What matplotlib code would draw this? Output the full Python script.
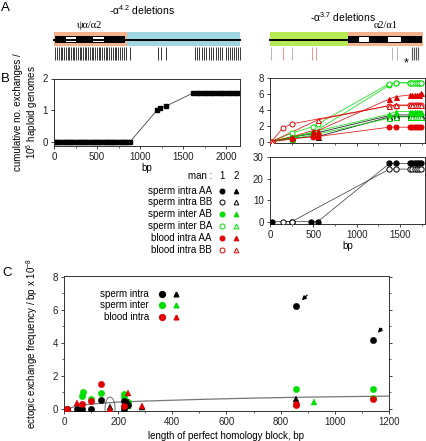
import matplotlib
matplotlib.use('Agg')
import matplotlib.pyplot as plt
from matplotlib.patches import Rectangle, Ellipse
from matplotlib.ticker import MultipleLocator

W, H = 427, 441
plt.rcParams['font.family'] = ['Liberation Sans', 'DejaVu Sans']
plt.rcParams['font.size'] = 7
plt.rcParams['mathtext.default'] = 'regular'
plt.rcParams['axes.linewidth'] = 0.7
for a in ('xtick', 'ytick'):
    plt.rcParams[a + '.major.size'] = 2.5
    plt.rcParams[a + '.minor.size'] = 1.5
    plt.rcParams[a + '.major.width'] = 0.6
    plt.rcParams[a + '.minor.width'] = 0.5
    plt.rcParams[a + '.major.pad'] = 2
    plt.rcParams[a + '.labelsize'] = 7
    plt.rcParams[a + '.color'] = '#222222'

# ---------------- DATA ----------------
# Panel A: locus maps (map coordinates)
left_hom = (54, 127)
left_flank = (127, 240)
left_gene = (55, 125)
left_introns = [(66, 76), (93, 104)]
left_sites = [55, 57, 59, 61, 62, 64, 66, 68, 69, 71, 73, 74, 76, 78, 80, 81, 83, 85,
              86, 88, 90, 92, 93, 95, 97, 99, 100, 102, 104, 106, 107, 109, 111, 113,
              115, 116, 118, 120, 122, 124, 126, 130, 158, 161, 166, 195, 197, 199,
              202, 204, 206, 209, 211, 213, 216, 218, 220, 222, 226, 228, 230, 232,
              234, 236, 238, 240]
right_flank = (270, 348)
right_hom = (348, 423)
right_gene = (348, 422)
right_introns = [(359, 369), (388, 401)]
right_sites_gray = [271, 292, 392, 397]
right_sites_red = [283, 312, 316]
right_sites_dark = [412, 414, 416, 418]

# Panel B left (-alpha4.2)
b4_x = [0, 25, 50, 75, 100, 125, 150, 175, 200, 225, 250, 275, 300, 325, 350, 375,
        400, 425, 450, 475, 500, 525, 550, 575, 600, 625, 650, 675, 700, 725, 750,
        775, 800, 825, 850, 880,
        1195, 1230, 1300,
        1620, 1660, 1700, 1740, 1780, 1820, 1860, 1900, 1940, 1980, 2020, 2060, 2100, 2140]
b4_y = [0.0] * 36 + [1.0, 1.08, 1.13] + [1.55] * 14

# Panel B right (-alpha3.7), top part
END = [1620, 1645, 1670, 1695, 1720, 1745]
top_series = [
    # (color, marker, filled, x, y)
    ('black', '^', True,  [20, 250, 494, 1380, 1450] + END, [0, 0.55, 0.97, 3.27, 3.35] + [3.35] * 6),
    ('black', '^', False, [20, 250, 552, 1380, 1450] + END, [0, 0.45, 0.63, 3.10, 3.15] + [3.15] * 6),
    ('#00dd00', 'o', True,  [20, 250, 494, 1380, 1450] + END, [0, 0.6, 1.1, 7.1, 7.4] + [7.4] * 6),
    ('#00dd00', '^', True,  [20, 250, 494, 1380, 1450] + END, [0, 0.5, 1.2, 3.44, 3.77] + [3.77] * 6),
    ('#00dd00', 'o', False, [20, 250, 494, 552, 1380, 1450] + END, [0, 1.05, 1.88, 2.22, 7.3, 7.4] + [7.4] * 6),
    ('#00dd00', '^', False, [20, 250, 494, 1380, 1450] + END, [0, 0.35, 0.8, 2.94, 3.1] + [3.1] * 6),
    ('#e00000', 'o', True,  [20, 250, 494, 552, 1380, 1450] + END, [0, 0.3, 0.63, 0.63, 1.81, 1.81] + [1.81] * 6),
    ('#e00000', '^', True,  [20, 250, 494, 552, 1380, 1450] + END, [0, 0.6, 1.38, 1.38, 5.36, 5.65, 5.87, 5.87, 5.87, 5.87, 5.87, 6.16]),
    ('#e00000', 'o', False, [20, 145, 250, 1380, 1450] + END, [0, 1.68, 2.22, 4.52, 4.52] + [4.55] * 6),
    ('#e00000', '^', False, [20, 552, 1380, 1450] + END, [0, 2.73, 4.52, 4.6] + [4.6] * 6),
]
# bottom part (man 1 sperm intra)
bot_series = [
    ('black', 'o', True,  [20, 250, 470, 550, 1380, 1450] + END, [0, 0, 0, 0, 27.0, 27.0] + [27.0] * 6),
    ('black', 'o', False, [150, 250, 1380, 1450] + END, [0, 0, 24.4, 24.4] + [24.4] * 6),
]

# Panel C
c_groups = [
    # (color, marker, x, y)
    ('#00dd00', 'o', [67, 69, 98, 136, 221, 221, 235, 855, 1140, 1140], [0.8, 1.0, 0.6, 0.95, 0.9, 0.7, 0.4, 1.2, 1.18, 0.65]),
    ('#00dd00', '^', [235, 923], [0.2, 0.45]),
    ('black', 'o', [12, 47, 67, 98, 136, 221, 221, 235, 857, 1140], [0, 0, 0, 0, 0.55, 0.5, 0, 0.25, 6.25, 4.2]),
    ('black', '^', [170, 221, 235, 288, 855], [0.1, 0.3, 0.4, 0.1, 0.6]),
    ('#e00000', 'o', [12, 67, 98, 136, 221, 855, 855, 1140], [0, 0.3, 0.5, 1.53, 0.2, 0.3, 0.25, 0.6]),
    ('#e00000', '^', [47, 170, 235, 288], [0.38, 0.0, 0.95, 0.2]),
]
c_fit_x = [12, 50, 100, 200, 300, 500, 700, 900, 1200]
c_fit_y = [0.0, 0.2, 0.3, 0.42, 0.48, 0.58, 0.66, 0.72, 0.78]

b_legend_rows = ['sperm intra AA', 'sperm intra BB', 'sperm inter AB', 'sperm inter BA',
                 'blood intra AA', 'blood intra BB']
b_legend_style = [('black', True), ('black', False), ('#00dd00', True), ('#00dd00', False),
                  ('#e00000', True), ('#e00000', False)]
c_legend_rows = ['sperm intra', 'sperm inter', 'blood intra']
c_legend_colors = ['black', '#00dd00', '#e00000']

# ---------------- FIGURE ----------------
fig = plt.figure(figsize=(W / 100, H / 100), dpi=100)


def rect(x0, y0, x1, y1):
    return [x0 / W, 1 - y1 / H, (x1 - x0) / W, (y1 - y0) / H]


def style(ax):
    for s in ax.spines.values():
        s.set_color('#333333')
    ax.tick_params(which='both', direction='out')


# B left
axL = fig.add_axes(rect(54, 78.5, 240, 145.7))
style(axL)
axL.plot(b4_x, b4_y, color='#444444', lw=0.6, marker='s', ms=2.6, mfc='black', mec='black')
axL.set_xlim(0, 2160)
axL.set_ylim(-0.115, 2.0)
axL.set_xticks([0, 500, 1000, 1500, 2000])
axL.xaxis.set_minor_locator(MultipleLocator(250))
axL.set_yticks([0, 1, 2])
axL.set_xlabel('bp', labelpad=1)

# B right top
axT = fig.add_axes(rect(270, 78, 425, 142.5))
style(axT)
for col, mk, filled, xs, ys in top_series:
    axT.plot(xs, ys, color=col, lw=0.6, alpha=0.85, zorder=2)
    axT.plot(xs, ys, ls='none', marker=mk, ms=3.6, mec=col, mew=0.7,
             mfc=col if filled else 'white', zorder=3)
axT.set_xlim(0, 1790)
axT.set_ylim(-0.12, 8.0)
axT.set_xticks([0, 500, 1000, 1500])
axT.xaxis.set_minor_locator(MultipleLocator(250))
axT.set_xticklabels([])
axT.set_yticks([0, 2, 4, 6, 8])

# B right bottom
axB = fig.add_axes(rect(270, 157, 425, 223.5))
style(axB)
for col, mk, filled, xs, ys in bot_series:
    axB.plot(xs, ys, color='#333333', lw=0.5, zorder=2)
    axB.plot(xs, ys, ls='none', marker=mk, ms=3.8, mec=col, mew=0.7,
             mfc=col if filled else 'white', zorder=3)
axB.set_xlim(0, 1790)
axB.set_ylim(-0.85, 30)
axB.set_xticks([0, 500, 1000, 1500])
axB.xaxis.set_minor_locator(MultipleLocator(250))
axB.set_yticks([0, 10, 20, 30])
axB.set_xlabel('bp', labelpad=1)

# C
axC = fig.add_axes(rect(64, 276, 389, 411))
style(axC)
axC.plot(c_fit_x, c_fit_y, color='#777777', lw=0.9, zorder=1)
for col, mk, xs, ys in c_groups:
    axC.plot(xs, ys, ls='none', marker=mk, ms=4.6 if mk == 'o' else 4.0,
             mfc=col, mec=col, mew=0.3, zorder=3)
axC.add_patch(Ellipse((170, 0.05), 37, 1.35, fill=False, ec='#555555', lw=0.6, zorder=4))
axC.annotate('', xy=(871, 6.45), xytext=(905, 7.0),
             arrowprops=dict(arrowstyle='-|>', color='black', lw=0.9, mutation_scale=6))
axC.annotate('', xy=(1152, 4.48), xytext=(1180, 5.0),
             arrowprops=dict(arrowstyle='-|>', color='black', lw=0.9, mutation_scale=6))
axC.set_xlim(0, 1200)
axC.set_ylim(-0.12, 8.04)
axC.set_xticks([0, 200, 400, 600, 800, 1000, 1200])
axC.xaxis.set_minor_locator(MultipleLocator(100))
axC.set_yticks([0, 2, 4, 6, 8])
axC.yaxis.set_minor_locator(MultipleLocator(1))
axC.tick_params(which='both', right=True)
axC.set_xlabel('length of perfect homology block, bp', labelpad=3)

# ---------------- OVERLAY (panel A, labels, legends) ----------------
ov = fig.add_axes([0, 0, 1, 1], zorder=10)
ov.set_xlim(0, W)
ov.set_ylim(H, 0)
ov.axis('off')
ov.patch.set_visible(False)

ORANGE = '#f6b18d'
BLUE = '#9fd6e1'
GREEN = '#b6ea55'

# left locus
ov.add_patch(Rectangle((left_hom[0], 32), left_hom[1] - left_hom[0], 14, fc=ORANGE, ec='none'))
ov.add_patch(Rectangle((left_flank[0], 32), left_flank[1] - left_flank[0], 14, fc=BLUE, ec='none'))
ov.plot([left_hom[0], left_flank[1]], [39.5, 39.5], color='black', lw=1.4)
ov.add_patch(Rectangle((left_gene[0], 36), left_gene[1] - left_gene[0], 7, fc='black', ec='none'))
for a, b in left_introns:
    ov.add_patch(Rectangle((a, 37.3), b - a, 4.4, fc='white', ec='none'))
ov.vlines(left_sites, 47, 60, color='black', lw=0.55)

# right locus
ov.add_patch(Rectangle((right_flank[0], 32), right_flank[1] - right_flank[0], 14, fc=GREEN, ec='none'))
ov.add_patch(Rectangle((right_hom[0], 32), right_hom[1] - right_hom[0], 14, fc=ORANGE, ec='none'))
ov.plot([right_flank[0], right_hom[0]], [39.5, 39.5], color='black', lw=1.4)
ov.add_patch(Rectangle((right_gene[0], 36), right_gene[1] - right_gene[0], 7, fc='black', ec='none'))
for a, b in right_introns:
    ov.add_patch(Rectangle((a, 37.3), b - a, 4.4, fc='white', ec='none'))
ov.vlines(right_sites_gray, 47, 60, color='#aaaaaa', lw=0.6)
ov.vlines(right_sites_red, 47, 60, color='#f08080', lw=0.6)
ov.vlines(right_sites_dark, 47, 60, color='#555555', lw=0.8)
ov.text(406, 63, '*', ha='center', va='center', fontsize=9)

ov.text(142, 10, '-α$^{4.2}$ deletions', ha='center', va='center', fontsize=7.5)
ov.text(343, 17, '-α$^{3.7}$ deletions', ha='center', va='center', fontsize=7.5)
ov.text(89, 25, 'ψα/α2', ha='center', va='center', fontsize=7.5,
        family=['Liberation Serif', 'DejaVu Serif'])
ov.text(386, 25, 'α2/α1', ha='center', va='center', fontsize=7.5,
        family=['Liberation Serif', 'DejaVu Serif'])

# panel letters
ov.text(1, 8, 'A', ha='left', va='center', fontsize=9.5)
ov.text(1, 79, 'B', ha='left', va='center', fontsize=9.5)
ov.text(2, 273, 'C', ha='left', va='center', fontsize=9.5)

# axis labels drawn on overlay
ov.text(26.5, 112, 'cumulative no. exchanges /\n10$^6$ haploid genomes', rotation=90,
        ha='center', va='center', fontsize=7, linespacing=1.15)
ov.text(32, 344, 'ectopic exchange frequency / bp x 10$^{-8}$', rotation=90,
        ha='center', va='center', fontsize=7)

# legend B
ov.text(212, 176, 'man :', ha='right', va='center', fontsize=7)
ov.text(222, 176, '1', ha='center', va='center', fontsize=7)
ov.text(236, 176, '2', ha='center', va='center', fontsize=7)
b_rows_y = [190.5, 202.2, 214.2, 226, 237.8, 249.8]
for yy, lab, (col, filled) in zip(b_rows_y, b_legend_rows, b_legend_style):
    ov.text(212, yy, lab, ha='right', va='center', fontsize=7)
    ov.plot([222], [yy], marker='o', ms=3.6, mec=col, mew=0.7,
            mfc=col if filled else 'white', ls='none')
    ov.plot([236], [yy], marker='^', ms=3.4, mec=col, mew=0.7,
            mfc=col if filled else 'white', ls='none')

# legend C
c_rows_y = [294, 305.3, 316.7]
for yy, lab, col in zip(c_rows_y, c_legend_rows, c_legend_colors):
    ov.text(149, yy, lab, ha='right', va='center', fontsize=7)
    ov.plot([162], [yy], marker='o', ms=4.2, mfc=col, mec=col, ls='none')
    ov.plot([175.7], [yy], marker='^', ms=3.4, mfc=col, mec=col, ls='none')

fig.savefig('out.png', dpi=100)
